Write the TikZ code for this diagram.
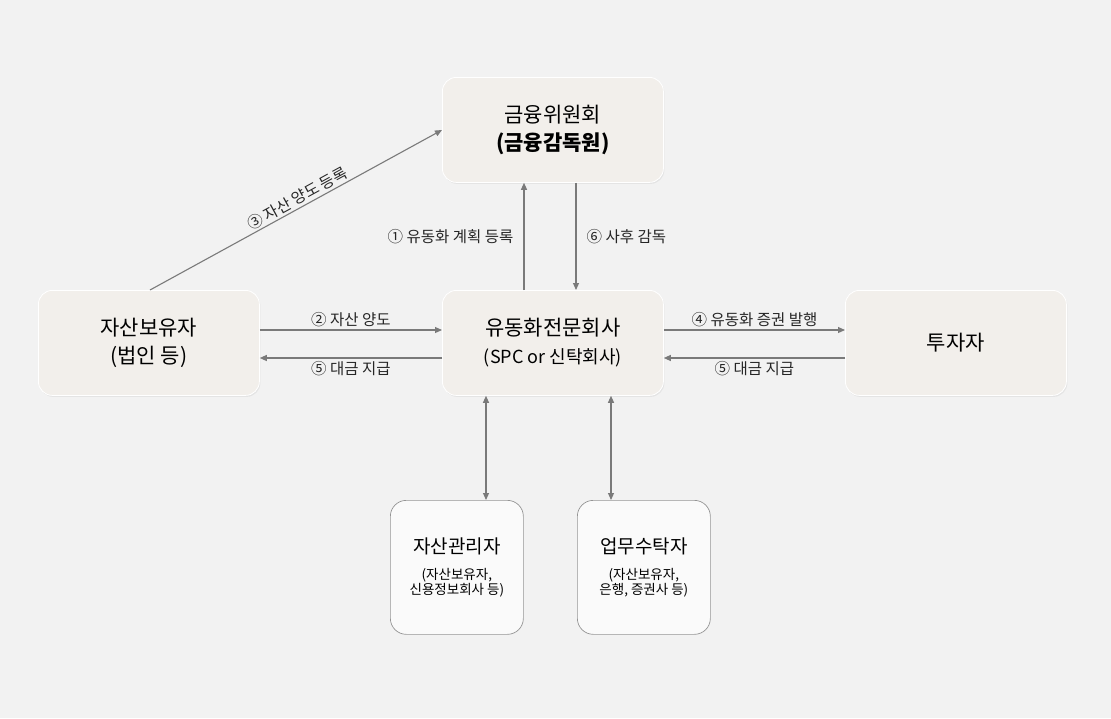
\documentclass[tikz,border=0pt]{standalone}
\usepackage{fontspec}
\setmainfont{Noto Sans CJK KR}
\usetikzlibrary{arrows.meta,shadows}
\definecolor{bg}{HTML}{F2F2F2}
\definecolor{boxf}{HTML}{F2EFEB}
\definecolor{ln}{HTML}{7A7A7A}
\tikzset{
 mainbox/.style={draw=white,line width=0.8pt,fill=boxf,rounded corners=14pt,minimum width=221pt,minimum height=105pt,anchor=north west,align=center,font=\fontsize{21}{28}\selectfont,drop shadow={opacity=0.12,shadow xshift=1pt,shadow yshift=-1.5pt}},
 subbox/.style={draw=ln!80,line width=0.7pt,fill=white!60!bg,rounded corners=16pt,minimum width=133pt,minimum height=134pt,anchor=north west,align=center},
 conn/.style={draw=ln,line width=1.1pt,-{Triangle[length=7pt,width=6pt]}},
 dconn/.style={draw=ln,line width=1.1pt,{Triangle[length=7pt,width=6pt]}-{Triangle[length=7pt,width=6pt]}},
 lbl/.style={font=\fontsize{15.5}{19}\selectfont,text=black!85,inner sep=2pt}
}
\begin{document}
\begin{tikzpicture}[x=1pt,y=-1pt]
\fill[bg] (0,0) rectangle (1111,718);
\useasboundingbox (0,0) rectangle (1111,718);
\node[mainbox] (fsc) at (442,77) {금융위원회\\\textbf{(금융감독원)}};
\node[mainbox] (own) at (38,290) {자산보유자\\(법인 등)};
\node[mainbox] (spc) at (442,290) {유동화전문회사\\{\fontsize{18}{22}\selectfont(SPC or 신탁회사)}};
\node[mainbox] (inv) at (845,290) {투자자};
\node[subbox] (mgr) at (390,500) {{\fontsize{19}{23}\selectfont 자산관리자}\\[12pt]{\fontsize{13.5}{18}\selectfont(자산보유자,}\\{\fontsize{13.5}{18}\selectfont 신용정보회사 등)}};
\node[subbox] (trs) at (577,500) {{\fontsize{19}{23}\selectfont 업무수탁자}\\[12pt]{\fontsize{13.5}{18}\selectfont(자산보유자,}\\{\fontsize{13.5}{18}\selectfont 은행, 증권사 등)}};
\coordinate (a3s) at (150,290); \coordinate (a3e) at (442,130);
\draw[conn] (a3s) -- node[lbl,sloped,above,pos=0.52] {③ 자산 양도 등록} (a3e);
\draw[conn] (spc.north west -| 524,0) -- node[lbl,left=8pt] {① 유동화 계획 등록} (fsc.south west -| 524,0);
\draw[conn] (fsc.south west -| 576,0) -- node[lbl,right=8pt] {⑥ 사후 감독} (spc.north west -| 576,0);
\draw[conn] (own.east |- 0,330) -- node[lbl,above=1pt] {② 자산 양도} (spc.west |- 0,330);
\draw[conn] (spc.west |- 0,358) -- node[lbl,below=1pt] {⑤ 대금 지급} (own.east |- 0,358);
\draw[conn] (spc.east |- 0,330) -- node[lbl,above=1pt] {④ 유동화 증권 발행} (inv.west |- 0,330);
\draw[conn] (inv.west |- 0,358) -- node[lbl,below=1pt] {⑤ 대금 지급} (spc.east |- 0,358);
\draw[dconn] (spc.south west -| 486,0) -- (mgr.north west -| 486,0);
\draw[dconn] (spc.south west -| 611,0) -- (trs.north west -| 611,0);
\end{tikzpicture}
\end{document}
